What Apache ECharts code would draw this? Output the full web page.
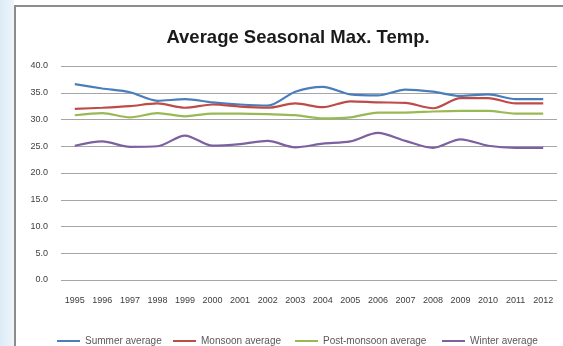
<!DOCTYPE html>
<html>
<head>
<meta charset="utf-8">
<script src="https://cdn.jsdelivr.net/npm/echarts@6/dist/echarts.min.js"></script>
<style>
  html, body { margin: 0; padding: 0; width: 563px; height: 346px; overflow: hidden; background: #ffffff; }
  #strip { position: absolute; left: 0; top: 0; width: 14px; height: 346px;
           background: linear-gradient(to right, #dcebf7, #eef5fb); }
  #frame { position: absolute; left: 14px; top: 5px; width: 560px; height: 360px;
           border-left: 2px solid #8c8c8c; border-top: 2px solid #8c8c8c; background: #ffffff; }
  #chart { position: absolute; left: 0; top: 0; width: 563px; height: 346px; }
</style>
</head>
<body>
<div id="strip"></div>
<div id="frame"></div>
<div id="chart"></div>
<script>
// Seasonal averages of daily maximum temperature, by year
const years = ['1995','1996','1997','1998','1999','2000','2001','2002','2003',
               '2004','2005','2006','2007','2008','2009','2010','2011','2012'];
const summerAvg      = [36.6, 35.8, 35.1, 33.5, 33.8, 33.2, 32.8, 32.6, 35.2, 36.1, 34.7, 34.5, 35.6, 35.2, 34.4, 34.7, 33.8, 33.8];
const monsoonAvg     = [32.0, 32.2, 32.5, 33.0, 32.2, 32.8, 32.4, 32.2, 33.0, 32.3, 33.4, 33.2, 33.1, 32.1, 34.0, 34.0, 33.0, 33.0];
const postMonsoonAvg = [30.8, 31.2, 30.4, 31.2, 30.6, 31.1, 31.1, 31.0, 30.8, 30.2, 30.4, 31.3, 31.3, 31.5, 31.6, 31.6, 31.1, 31.1];
const winterAvg      = [25.1, 25.9, 24.9, 25.0, 27.0, 25.1, 25.4, 26.0, 24.8, 25.5, 25.9, 27.5, 26.0, 24.7, 26.3, 25.1, 24.7, 24.7];
const seriesNames = ['Summer average', 'Monsoon average', 'Post-monsoon average', 'Winter average'];
const colors = ['#4a7ebb', '#be4b48', '#98b954', '#7d60a0'];

const chart = echarts.init(document.getElementById('chart'), null, { renderer: 'canvas' });
const font = 'Liberation Sans, Arial, sans-serif';

function line(name, data, color) {
  return {
    name: name, type: 'line', data: data, smooth: 0.3,
    symbol: 'none', lineStyle: { color: color, width: 2.2 }, itemStyle: { color: color }
  };
}

// one legend entry per component so each entry sits at its own x position
const legendLefts = [52, 168, 290, 437];
const legends = seriesNames.map((name, i) => ({
  left: legendLefts[i], top: 331, itemWidth: 23, itemHeight: 2, icon: 'rect',
  textStyle: { fontFamily: font, fontSize: 10, color: '#595959' },
  data: [name]
}));

chart.setOption({
  backgroundColor: 'transparent',
  animation: false,
  color: colors,
  title: {
    text: 'Average Seasonal Max. Temp.',
    left: 293, top: 23, textAlign: 'center',
    textStyle: { fontFamily: font, fontSize: 18.5, fontWeight: 'bold', color: '#1a1a1a' }
  },
  grid: { left: 61, right: 6, top: 66, bottom: 66 },
  legend: legends,
  xAxis: {
    type: 'category', data: years, boundaryGap: true,
    axisLine: { show: false }, axisTick: { show: false },
    axisLabel: { interval: 0, fontFamily: font, fontSize: 9, color: '#404040', margin: 16 }
  },
  yAxis: {
    type: 'value', min: 0, max: 40, interval: 5,
    axisLine: { show: false }, axisTick: { show: false },
    axisLabel: { formatter: v => v.toFixed(1), fontFamily: font, fontSize: 9, color: '#404040', margin: 13 },
    splitLine: { lineStyle: { color: '#a6a6a6', width: 1.2 } }
  },
  series: [
    line(seriesNames[0], summerAvg, colors[0]),
    line(seriesNames[1], monsoonAvg, colors[1]),
    line(seriesNames[2], postMonsoonAvg, colors[2]),
    line(seriesNames[3], winterAvg, colors[3])
  ]
});
</script>
</body>
</html>
